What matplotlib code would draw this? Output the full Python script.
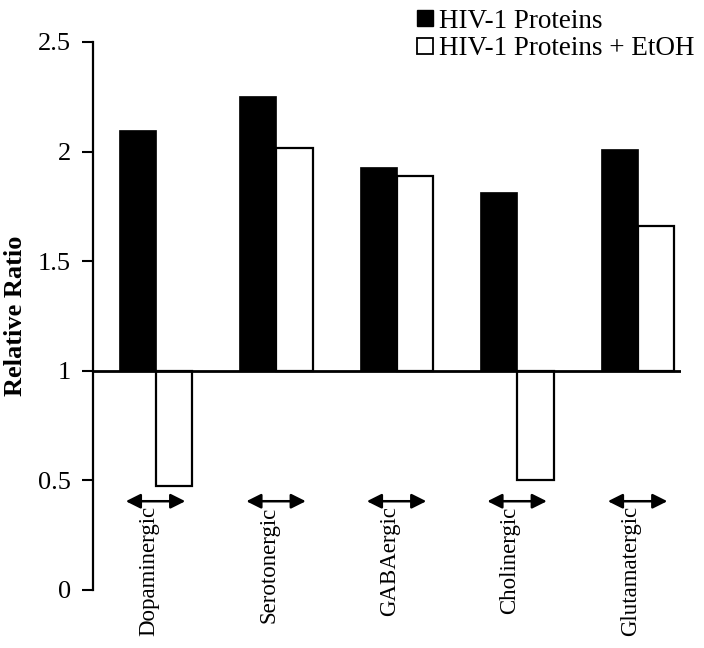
import numpy as np
from matplotlib import pyplot as plt
from matplotlib.lines import Line2D

categories = ["Dopaminergic", "Serotonergic", "GABAergic", "Cholinergic", "Glutamatergic"]
hiv = [2.10, 2.255, 1.93, 1.815, 2.01]
hiv_etoh = [0.475, 2.015, 1.89, 0.50, 1.66]
series_names = ["HIV-1 Proteins", "HIV-1 Proteins + EtOH"]
yticks = [0, 0.5, 1, 1.5, 2, 2.5]
ytick_labels = ["0", "0.5", "1", "1.5", "2", "2.5"]

plt.rcParams['font.family'] = ['Liberation Serif', 'DejaVu Serif']

fig = plt.figure(figsize=(7.04, 6.48), dpi=100)
ax = fig.add_axes([93/704, 1 - 590/648, 588/704, 548/648])

x = np.arange(len(categories))
w = 0.305
base = 1.0
ax.bar(x - w/2, np.array(hiv) - base, w, bottom=base, color='black',
       edgecolor='black', linewidth=0.5, zorder=2)
ax.bar(x + w/2, np.array(hiv_etoh) - base, w, bottom=base, color='white',
       edgecolor='black', linewidth=1.6, zorder=2)
ax.axhline(base, color='black', lw=2.0, zorder=3)

# double arrows + category labels under each group
for i, cat in enumerate(categories):
    ax.annotate("", xy=(i - 0.27, 0.405), xytext=(i + 0.27, 0.405),
                arrowprops=dict(arrowstyle='<|-|>', color='black', lw=1.8,
                                mutation_scale=22), annotation_clip=False)
    ax.text(i - 0.06, 0.382, cat, rotation=90, ha='center', va='top',
            fontsize=16.5, clip_on=False)

ax.set_xlim(-0.519, 4.36)
ax.set_ylim(0, 2.5)
ax.set_yticks(yticks)
ax.set_yticklabels(ytick_labels, fontsize=19)
ax.set_xticks([])
ax.tick_params(axis='y', direction='out', length=8, width=1.5, pad=8)
for s in ['top', 'right', 'bottom']:
    ax.spines[s].set_visible(False)
ax.spines['left'].set_linewidth(1.6)
ax.set_ylabel("Relative Ratio", fontsize=19, fontweight='bold')
ax.yaxis.set_label_coords(-0.112, 0.5)

handles = [Line2D([], [], marker='s', ls='', markerfacecolor='black',
                  markeredgecolor='black', markersize=11),
           Line2D([], [], marker='s', ls='', markerfacecolor='white',
                  markeredgecolor='black', markersize=11, markeredgewidth=1.3)]
fig.legend(handles, series_names, loc='upper right',
           bbox_to_anchor=(708/704, 1 + 5/648), frameon=False,
           prop={'family': 'Liberation Serif', 'size': 19.5},
           borderpad=0, handlelength=0.6, handletextpad=0.2, labelspacing=0.1)

plt.savefig("out.png", dpi=100)
